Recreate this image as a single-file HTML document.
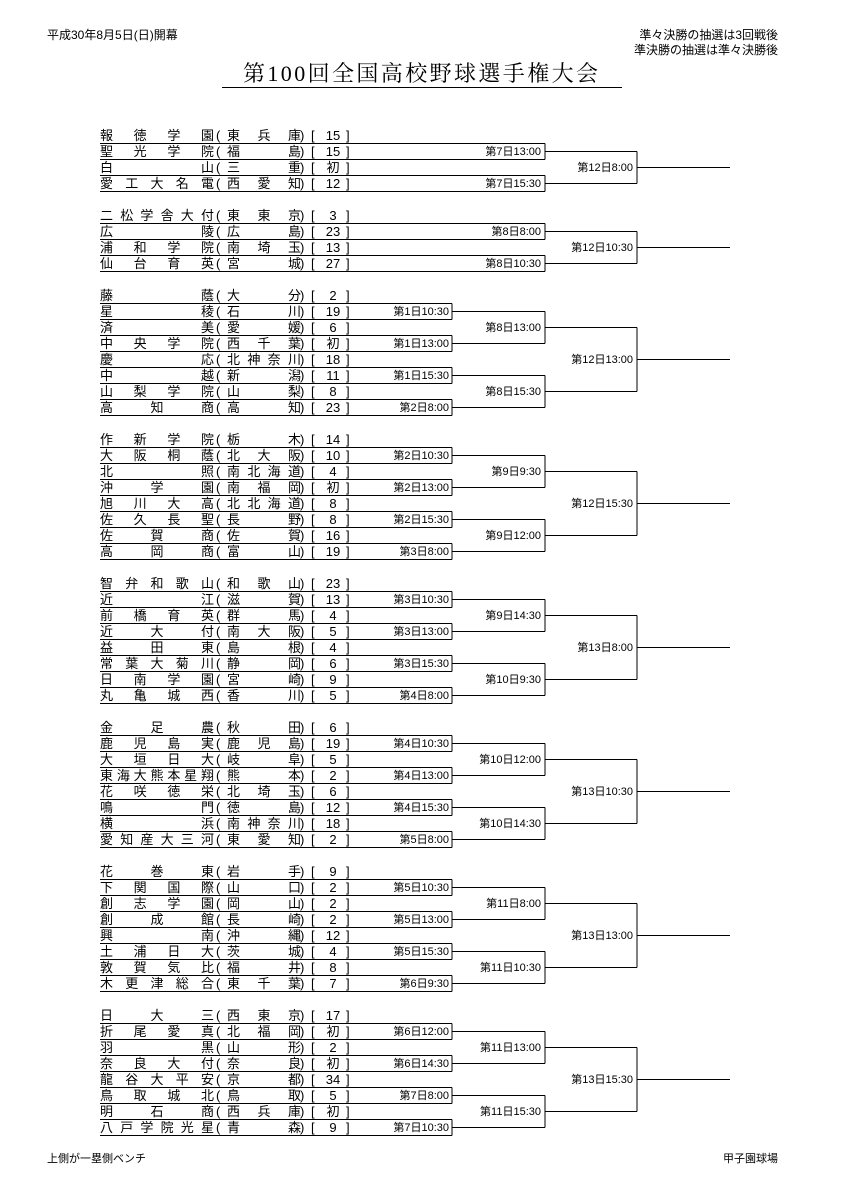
<!DOCTYPE html>
<html><head><meta charset="utf-8">
<style>
body{margin:0;width:841px;height:1190px;background:#fff;position:relative;font-family:"Liberation Sans","Noto Sans CJK JP",sans-serif;color:#000;overflow:hidden}
.t{position:absolute;white-space:nowrap}
.r{position:absolute;left:0;width:841px;height:15px;font-size:13px;line-height:15px;font-family:"Liberation Sans","Noto Sans CJK JP",sans-serif}
.r span{position:absolute;top:0;white-space:nowrap}
.n{left:100px;width:114px;text-align:justify;text-align-last:justify}
.a{left:216px}
.p{left:227px;width:74px;text-align:justify;text-align-last:justify}
.c{left:300px}
.b{left:311px}
.m{left:318px;width:30px;text-align:center}
.e{left:346px}
svg{position:absolute;left:0;top:0}
svg text{font-family:"Liberation Sans","Noto Sans CJK JP",sans-serif;font-size:11px}
</style></head><body>
<div class="t" style="left:47px;top:26px;font-size:12px">平成30年8月5日(日)開幕</div>
<div class="t" style="right:63px;top:26px;font-size:12px">準々決勝の抽選は3回戦後</div>
<div class="t" style="right:63px;top:41px;font-size:12px">準決勝の抽選は準々決勝後</div>
<div class="t" style="left:243px;top:61px;font-size:22px;line-height:26px;letter-spacing:2.4px;font-family:'Liberation Serif','Noto Serif CJK SC',serif">第100回全国高校野球選手権大会</div>
<div class="t" style="left:222px;top:87px;width:400px;height:1px;background:#000"></div>
<div class="t" style="left:47px;top:1150px;font-size:11px">上側が一塁側ベンチ</div>
<div class="t" style="right:63px;top:1150px;font-size:11px">甲子園球場</div>

<svg width="841" height="1190">
<defs>
<path id="g8" fill="none" stroke="#000" stroke-width="1" d="M100 0H452M100 16H452M100 32H452M100 48H452M100 64H452M100 80H452M100 96H452M100 112H452M452 0V16M452 32V48M452 64V80M452 96V112M452 8H545M452 40H545M452 72H545M452 104H545M545 8V40M545 72V104M545 24H637M545 88H637M637 24V88M637 56H730"/>
<path id="g4" fill="none" stroke="#000" stroke-width="1" d="M100 0H545M100 16H545M100 32H545M100 48H545M545 0V16M545 32V48M545 8H637M545 40H637M637 8V40M637 24H730"/>
</defs>
<g shape-rendering="crispEdges">
<use href="#g4" transform="translate(0,143.5)"/>
<use href="#g4" transform="translate(0,223.5)"/>
<use href="#g8" transform="translate(0,303.5)"/>
<use href="#g8" transform="translate(0,447.5)"/>
<use href="#g8" transform="translate(0,591.5)"/>
<use href="#g8" transform="translate(0,735.5)"/>
<use href="#g8" transform="translate(0,879.5)"/>
<use href="#g8" transform="translate(0,1023.5)"/>
</g>
<g text-anchor="end">
<text x="541" y="155">第7日13:00</text><text x="541" y="187">第7日15:30</text><text x="633" y="171">第12日8:00</text>
<text x="541" y="235">第8日8:00</text><text x="541" y="267">第8日10:30</text><text x="633" y="251">第12日10:30</text>
<text x="449" y="315">第1日10:30</text><text x="449" y="347">第1日13:00</text><text x="449" y="379">第1日15:30</text><text x="449" y="411">第2日8:00</text>
<text x="541" y="331">第8日13:00</text><text x="541" y="395">第8日15:30</text><text x="633" y="363">第12日13:00</text>
<text x="449" y="459">第2日10:30</text><text x="449" y="491">第2日13:00</text><text x="449" y="523">第2日15:30</text><text x="449" y="555">第3日8:00</text>
<text x="541" y="475">第9日9:30</text><text x="541" y="539">第9日12:00</text><text x="633" y="507">第12日15:30</text>
<text x="449" y="603">第3日10:30</text><text x="449" y="635">第3日13:00</text><text x="449" y="667">第3日15:30</text><text x="449" y="699">第4日8:00</text>
<text x="541" y="619">第9日14:30</text><text x="541" y="683">第10日9:30</text><text x="633" y="651">第13日8:00</text>
<text x="449" y="747">第4日10:30</text><text x="449" y="779">第4日13:00</text><text x="449" y="811">第4日15:30</text><text x="449" y="843">第5日8:00</text>
<text x="541" y="763">第10日12:00</text><text x="541" y="827">第10日14:30</text><text x="633" y="795">第13日10:30</text>
<text x="449" y="891">第5日10:30</text><text x="449" y="923">第5日13:00</text><text x="449" y="955">第5日15:30</text><text x="449" y="987">第6日9:30</text>
<text x="541" y="907">第11日8:00</text><text x="541" y="971">第11日10:30</text><text x="633" y="939">第13日13:00</text>
<text x="449" y="1035">第6日12:00</text><text x="449" y="1067">第6日14:30</text><text x="449" y="1099">第7日8:00</text><text x="449" y="1131">第7日10:30</text>
<text x="541" y="1051">第11日13:00</text><text x="541" y="1115">第11日15:30</text><text x="633" y="1083">第13日15:30</text>
</g>
</svg>

<div class="r" style="top:128px"><span class="n">報 徳 学 園</span><span class="a">(</span><span class="p">東 兵 庫</span><span class="c">)</span><span class="b">[</span><span class="m">15</span><span class="e">]</span></div>
<div class="r" style="top:144px"><span class="n">聖 光 学 院</span><span class="a">(</span><span class="p">福 島</span><span class="c">)</span><span class="b">[</span><span class="m">15</span><span class="e">]</span></div>
<div class="r" style="top:160px"><span class="n">白 山</span><span class="a">(</span><span class="p">三 重</span><span class="c">)</span><span class="b">[</span><span class="m">初</span><span class="e">]</span></div>
<div class="r" style="top:176px"><span class="n">愛 工 大 名 電</span><span class="a">(</span><span class="p">西 愛 知</span><span class="c">)</span><span class="b">[</span><span class="m">12</span><span class="e">]</span></div>

<div class="r" style="top:208px"><span class="n">二 松 学 舎 大 付</span><span class="a">(</span><span class="p">東 東 京</span><span class="c">)</span><span class="b">[</span><span class="m">3</span><span class="e">]</span></div>
<div class="r" style="top:224px"><span class="n">広 陵</span><span class="a">(</span><span class="p">広 島</span><span class="c">)</span><span class="b">[</span><span class="m">23</span><span class="e">]</span></div>
<div class="r" style="top:240px"><span class="n">浦 和 学 院</span><span class="a">(</span><span class="p">南 埼 玉</span><span class="c">)</span><span class="b">[</span><span class="m">13</span><span class="e">]</span></div>
<div class="r" style="top:256px"><span class="n">仙 台 育 英</span><span class="a">(</span><span class="p">宮 城</span><span class="c">)</span><span class="b">[</span><span class="m">27</span><span class="e">]</span></div>

<div class="r" style="top:288px"><span class="n">藤 蔭</span><span class="a">(</span><span class="p">大 分</span><span class="c">)</span><span class="b">[</span><span class="m">2</span><span class="e">]</span></div>
<div class="r" style="top:304px"><span class="n">星 稜</span><span class="a">(</span><span class="p">石 川</span><span class="c">)</span><span class="b">[</span><span class="m">19</span><span class="e">]</span></div>
<div class="r" style="top:320px"><span class="n">済 美</span><span class="a">(</span><span class="p">愛 媛</span><span class="c">)</span><span class="b">[</span><span class="m">6</span><span class="e">]</span></div>
<div class="r" style="top:336px"><span class="n">中 央 学 院</span><span class="a">(</span><span class="p">西 千 葉</span><span class="c">)</span><span class="b">[</span><span class="m">初</span><span class="e">]</span></div>
<div class="r" style="top:352px"><span class="n">慶 応</span><span class="a">(</span><span class="p">北 神 奈 川</span><span class="c">)</span><span class="b">[</span><span class="m">18</span><span class="e">]</span></div>
<div class="r" style="top:368px"><span class="n">中 越</span><span class="a">(</span><span class="p">新 潟</span><span class="c">)</span><span class="b">[</span><span class="m">11</span><span class="e">]</span></div>
<div class="r" style="top:384px"><span class="n">山 梨 学 院</span><span class="a">(</span><span class="p">山 梨</span><span class="c">)</span><span class="b">[</span><span class="m">8</span><span class="e">]</span></div>
<div class="r" style="top:400px"><span class="n">高 知 商</span><span class="a">(</span><span class="p">高 知</span><span class="c">)</span><span class="b">[</span><span class="m">23</span><span class="e">]</span></div>

<div class="r" style="top:432px"><span class="n">作 新 学 院</span><span class="a">(</span><span class="p">栃 木</span><span class="c">)</span><span class="b">[</span><span class="m">14</span><span class="e">]</span></div>
<div class="r" style="top:448px"><span class="n">大 阪 桐 蔭</span><span class="a">(</span><span class="p">北 大 阪</span><span class="c">)</span><span class="b">[</span><span class="m">10</span><span class="e">]</span></div>
<div class="r" style="top:464px"><span class="n">北 照</span><span class="a">(</span><span class="p">南 北 海 道</span><span class="c">)</span><span class="b">[</span><span class="m">4</span><span class="e">]</span></div>
<div class="r" style="top:480px"><span class="n">沖 学 園</span><span class="a">(</span><span class="p">南 福 岡</span><span class="c">)</span><span class="b">[</span><span class="m">初</span><span class="e">]</span></div>
<div class="r" style="top:496px"><span class="n">旭 川 大 高</span><span class="a">(</span><span class="p">北 北 海 道</span><span class="c">)</span><span class="b">[</span><span class="m">8</span><span class="e">]</span></div>
<div class="r" style="top:512px"><span class="n">佐 久 長 聖</span><span class="a">(</span><span class="p">長 野</span><span class="c">)</span><span class="b">[</span><span class="m">8</span><span class="e">]</span></div>
<div class="r" style="top:528px"><span class="n">佐 賀 商</span><span class="a">(</span><span class="p">佐 賀</span><span class="c">)</span><span class="b">[</span><span class="m">16</span><span class="e">]</span></div>
<div class="r" style="top:544px"><span class="n">高 岡 商</span><span class="a">(</span><span class="p">富 山</span><span class="c">)</span><span class="b">[</span><span class="m">19</span><span class="e">]</span></div>

<div class="r" style="top:576px"><span class="n">智 弁 和 歌 山</span><span class="a">(</span><span class="p">和 歌 山</span><span class="c">)</span><span class="b">[</span><span class="m">23</span><span class="e">]</span></div>
<div class="r" style="top:592px"><span class="n">近 江</span><span class="a">(</span><span class="p">滋 賀</span><span class="c">)</span><span class="b">[</span><span class="m">13</span><span class="e">]</span></div>
<div class="r" style="top:608px"><span class="n">前 橋 育 英</span><span class="a">(</span><span class="p">群 馬</span><span class="c">)</span><span class="b">[</span><span class="m">4</span><span class="e">]</span></div>
<div class="r" style="top:624px"><span class="n">近 大 付</span><span class="a">(</span><span class="p">南 大 阪</span><span class="c">)</span><span class="b">[</span><span class="m">5</span><span class="e">]</span></div>
<div class="r" style="top:640px"><span class="n">益 田 東</span><span class="a">(</span><span class="p">島 根</span><span class="c">)</span><span class="b">[</span><span class="m">4</span><span class="e">]</span></div>
<div class="r" style="top:656px"><span class="n">常 葉 大 菊 川</span><span class="a">(</span><span class="p">静 岡</span><span class="c">)</span><span class="b">[</span><span class="m">6</span><span class="e">]</span></div>
<div class="r" style="top:672px"><span class="n">日 南 学 園</span><span class="a">(</span><span class="p">宮 崎</span><span class="c">)</span><span class="b">[</span><span class="m">9</span><span class="e">]</span></div>
<div class="r" style="top:688px"><span class="n">丸 亀 城 西</span><span class="a">(</span><span class="p">香 川</span><span class="c">)</span><span class="b">[</span><span class="m">5</span><span class="e">]</span></div>

<div class="r" style="top:720px"><span class="n">金 足 農</span><span class="a">(</span><span class="p">秋 田</span><span class="c">)</span><span class="b">[</span><span class="m">6</span><span class="e">]</span></div>
<div class="r" style="top:736px"><span class="n">鹿 児 島 実</span><span class="a">(</span><span class="p">鹿 児 島</span><span class="c">)</span><span class="b">[</span><span class="m">19</span><span class="e">]</span></div>
<div class="r" style="top:752px"><span class="n">大 垣 日 大</span><span class="a">(</span><span class="p">岐 阜</span><span class="c">)</span><span class="b">[</span><span class="m">5</span><span class="e">]</span></div>
<div class="r" style="top:768px"><span class="n">東 海 大 熊 本 星 翔</span><span class="a">(</span><span class="p">熊 本</span><span class="c">)</span><span class="b">[</span><span class="m">2</span><span class="e">]</span></div>
<div class="r" style="top:784px"><span class="n">花 咲 徳 栄</span><span class="a">(</span><span class="p">北 埼 玉</span><span class="c">)</span><span class="b">[</span><span class="m">6</span><span class="e">]</span></div>
<div class="r" style="top:800px"><span class="n">鳴 門</span><span class="a">(</span><span class="p">徳 島</span><span class="c">)</span><span class="b">[</span><span class="m">12</span><span class="e">]</span></div>
<div class="r" style="top:816px"><span class="n">横 浜</span><span class="a">(</span><span class="p">南 神 奈 川</span><span class="c">)</span><span class="b">[</span><span class="m">18</span><span class="e">]</span></div>
<div class="r" style="top:832px"><span class="n">愛 知 産 大 三 河</span><span class="a">(</span><span class="p">東 愛 知</span><span class="c">)</span><span class="b">[</span><span class="m">2</span><span class="e">]</span></div>

<div class="r" style="top:864px"><span class="n">花 巻 東</span><span class="a">(</span><span class="p">岩 手</span><span class="c">)</span><span class="b">[</span><span class="m">9</span><span class="e">]</span></div>
<div class="r" style="top:880px"><span class="n">下 関 国 際</span><span class="a">(</span><span class="p">山 口</span><span class="c">)</span><span class="b">[</span><span class="m">2</span><span class="e">]</span></div>
<div class="r" style="top:896px"><span class="n">創 志 学 園</span><span class="a">(</span><span class="p">岡 山</span><span class="c">)</span><span class="b">[</span><span class="m">2</span><span class="e">]</span></div>
<div class="r" style="top:912px"><span class="n">創 成 館</span><span class="a">(</span><span class="p">長 崎</span><span class="c">)</span><span class="b">[</span><span class="m">2</span><span class="e">]</span></div>
<div class="r" style="top:928px"><span class="n">興 南</span><span class="a">(</span><span class="p">沖 縄</span><span class="c">)</span><span class="b">[</span><span class="m">12</span><span class="e">]</span></div>
<div class="r" style="top:944px"><span class="n">土 浦 日 大</span><span class="a">(</span><span class="p">茨 城</span><span class="c">)</span><span class="b">[</span><span class="m">4</span><span class="e">]</span></div>
<div class="r" style="top:960px"><span class="n">敦 賀 気 比</span><span class="a">(</span><span class="p">福 井</span><span class="c">)</span><span class="b">[</span><span class="m">8</span><span class="e">]</span></div>
<div class="r" style="top:976px"><span class="n">木 更 津 総 合</span><span class="a">(</span><span class="p">東 千 葉</span><span class="c">)</span><span class="b">[</span><span class="m">7</span><span class="e">]</span></div>

<div class="r" style="top:1008px"><span class="n">日 大 三</span><span class="a">(</span><span class="p">西 東 京</span><span class="c">)</span><span class="b">[</span><span class="m">17</span><span class="e">]</span></div>
<div class="r" style="top:1024px"><span class="n">折 尾 愛 真</span><span class="a">(</span><span class="p">北 福 岡</span><span class="c">)</span><span class="b">[</span><span class="m">初</span><span class="e">]</span></div>
<div class="r" style="top:1040px"><span class="n">羽 黒</span><span class="a">(</span><span class="p">山 形</span><span class="c">)</span><span class="b">[</span><span class="m">2</span><span class="e">]</span></div>
<div class="r" style="top:1056px"><span class="n">奈 良 大 付</span><span class="a">(</span><span class="p">奈 良</span><span class="c">)</span><span class="b">[</span><span class="m">初</span><span class="e">]</span></div>
<div class="r" style="top:1072px"><span class="n">龍 谷 大 平 安</span><span class="a">(</span><span class="p">京 都</span><span class="c">)</span><span class="b">[</span><span class="m">34</span><span class="e">]</span></div>
<div class="r" style="top:1088px"><span class="n">鳥 取 城 北</span><span class="a">(</span><span class="p">鳥 取</span><span class="c">)</span><span class="b">[</span><span class="m">5</span><span class="e">]</span></div>
<div class="r" style="top:1104px"><span class="n">明 石 商</span><span class="a">(</span><span class="p">西 兵 庫</span><span class="c">)</span><span class="b">[</span><span class="m">初</span><span class="e">]</span></div>
<div class="r" style="top:1120px"><span class="n">八 戸 学 院 光 星</span><span class="a">(</span><span class="p">青 森</span><span class="c">)</span><span class="b">[</span><span class="m">9</span><span class="e">]</span></div>
</body></html>
